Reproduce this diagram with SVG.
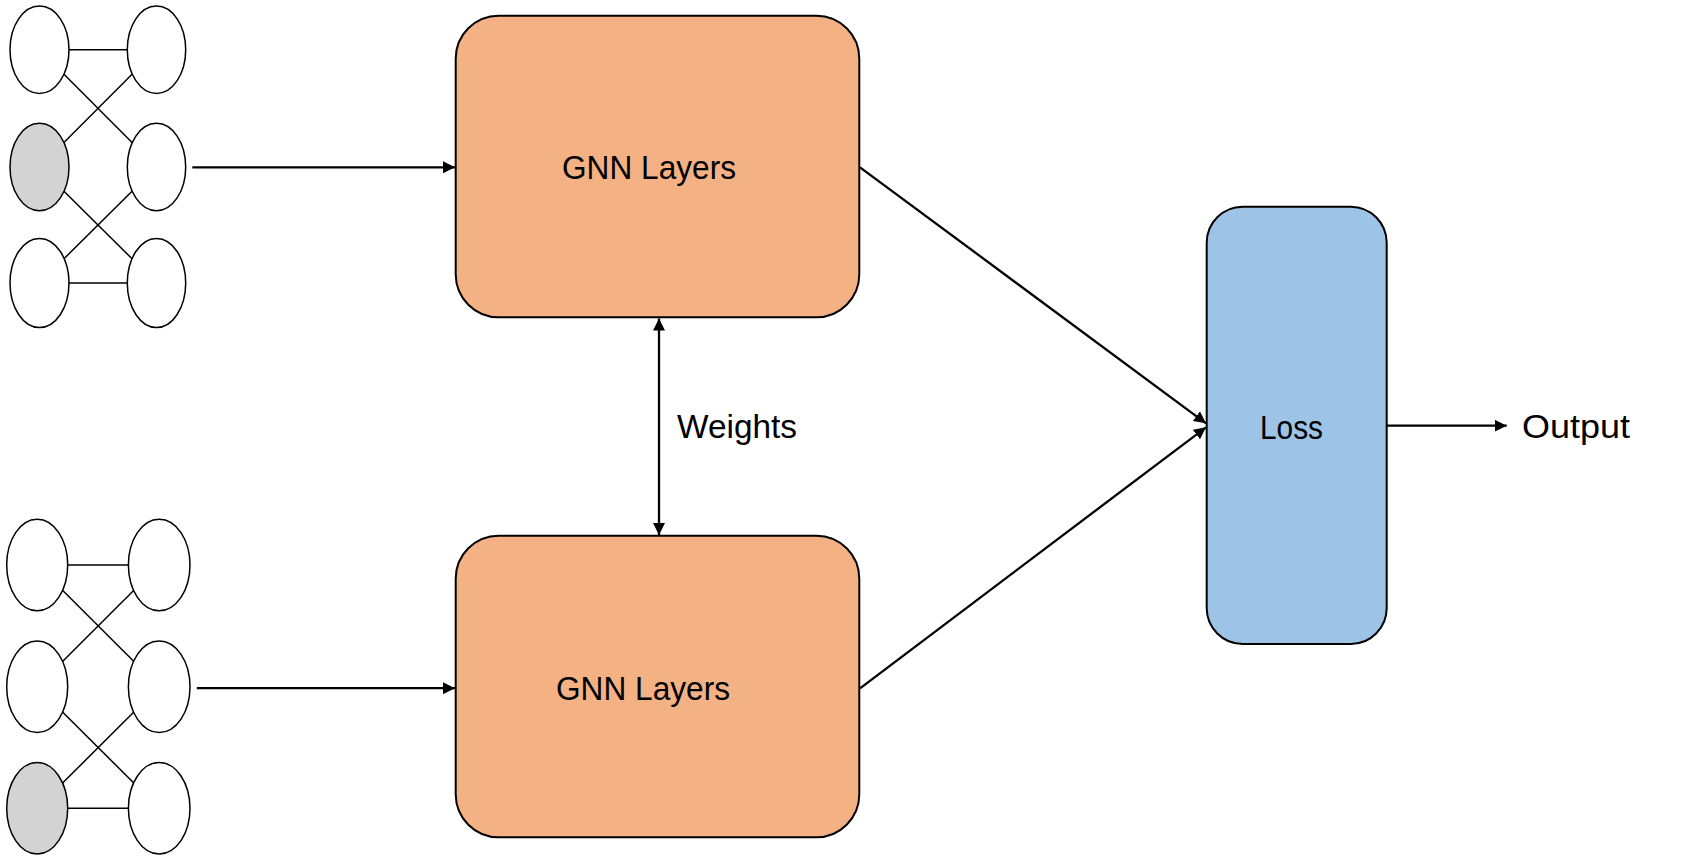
<svg xmlns="http://www.w3.org/2000/svg" width="1686" height="862" viewBox="0 0 1686 862">
<defs>
<style>
.box{stroke:#000;stroke-width:2}
.gnn{fill:#F4B183}
.loss{fill:#9DC3E6}
.node{fill:#fff;stroke:#000;stroke-width:1.5}
.node.hl{fill:#d3d3d3}
.edge{stroke:#000;stroke-width:1.5}
.conn{stroke:#000;stroke-width:2.3;fill:none}
.lbl{font-family:"Liberation Sans",Arial,sans-serif;font-size:33px;fill:#000}
</style>
<marker id="ah" viewBox="0 0 12 12" refX="12" refY="6" markerWidth="12" markerHeight="12" markerUnits="userSpaceOnUse" orient="auto-start-reverse">
<path d="M0,0 L12,6 L0,12 Z" fill="#000"/>
</marker>
</defs>
<rect width="1686" height="862" fill="#fff"/>

<g id="graph-top">
<line class="edge" x1="39.5" y1="49.7" x2="156.5" y2="49.7"/>
<line class="edge" x1="39.5" y1="49.7" x2="156.5" y2="167"/>
<line class="edge" x1="156.5" y1="49.7" x2="39.5" y2="167"/>
<line class="edge" x1="39.5" y1="167" x2="156.5" y2="283"/>
<line class="edge" x1="156.5" y1="167" x2="39.5" y2="283"/>
<line class="edge" x1="39.5" y1="283" x2="156.5" y2="283"/>
<ellipse class="node" cx="39.5" cy="49.7" rx="29.5" ry="43.7"/>
<ellipse class="node" cx="156.5" cy="49.7" rx="29.2" ry="43.7"/>
<ellipse class="node hl" cx="39.5" cy="167" rx="29.5" ry="43.7"/>
<ellipse class="node" cx="156.5" cy="167" rx="29.2" ry="43.7"/>
<ellipse class="node" cx="39.5" cy="283" rx="29.5" ry="44.5"/>
<ellipse class="node" cx="156.5" cy="283" rx="29.2" ry="44.5"/>
</g>

<g id="graph-bottom">
<line class="edge" x1="37.2" y1="565" x2="159.2" y2="565"/>
<line class="edge" x1="37.2" y1="565" x2="159.2" y2="686.8"/>
<line class="edge" x1="159.2" y1="565" x2="37.2" y2="686.8"/>
<line class="edge" x1="37.2" y1="686.8" x2="159.2" y2="808.3"/>
<line class="edge" x1="159.2" y1="686.8" x2="37.2" y2="808.3"/>
<line class="edge" x1="37.2" y1="808.3" x2="159.2" y2="808.3"/>
<ellipse class="node" cx="37.2" cy="565" rx="30.5" ry="45.7"/>
<ellipse class="node" cx="159.2" cy="565" rx="30.8" ry="45.7"/>
<ellipse class="node" cx="37.2" cy="686.8" rx="30.5" ry="45.8"/>
<ellipse class="node" cx="159.2" cy="686.8" rx="30.8" ry="45.8"/>
<ellipse class="node hl" cx="37.2" cy="808.3" rx="30.5" ry="45.7"/>
<ellipse class="node" cx="159.2" cy="808.3" rx="30.8" ry="45.7"/>
</g>

<g id="gnn-top">
<rect class="box gnn" x="455.7" y="15.7" width="403.6" height="301.6" rx="43" ry="43"/>
<text class="lbl" x="562" y="179" textLength="174" lengthAdjust="spacingAndGlyphs">GNN Layers</text>
</g>

<g id="gnn-bottom">
<rect class="box gnn" x="455.7" y="535.7" width="403.6" height="301.6" rx="43" ry="43"/>
<text class="lbl" x="556" y="700" textLength="174" lengthAdjust="spacingAndGlyphs">GNN Layers</text>
</g>

<g id="loss">
<rect class="box loss" x="1206.7" y="206.7" width="180" height="437.3" rx="36" ry="36"/>
<text class="lbl" x="1260" y="439.3" textLength="63" lengthAdjust="spacingAndGlyphs">Loss</text>
</g>

<g id="output">
<text class="lbl" x="1522" y="438.3" textLength="108" lengthAdjust="spacingAndGlyphs">Output</text>
</g>

<g id="weights-label">
<text class="lbl" x="677" y="438" textLength="120" lengthAdjust="spacingAndGlyphs">Weights</text>
</g>

<g id="connectors">
<line class="conn" x1="192.3" y1="167.3" x2="455" y2="167.3" marker-end="url(#ah)"/>
<line class="conn" x1="196.8" y1="688.2" x2="455" y2="688.2" marker-end="url(#ah)"/>
<line class="conn" x1="659" y1="318.5" x2="659" y2="535" marker-start="url(#ah)" marker-end="url(#ah)"/>
<line class="conn" x1="860" y1="167.3" x2="1206" y2="423.3" marker-end="url(#ah)"/>
<line class="conn" x1="860" y1="688.3" x2="1206" y2="427.3" marker-end="url(#ah)"/>
<line class="conn" x1="1386.7" y1="425.7" x2="1506.7" y2="425.7" marker-end="url(#ah)"/>
</g>
</svg>
